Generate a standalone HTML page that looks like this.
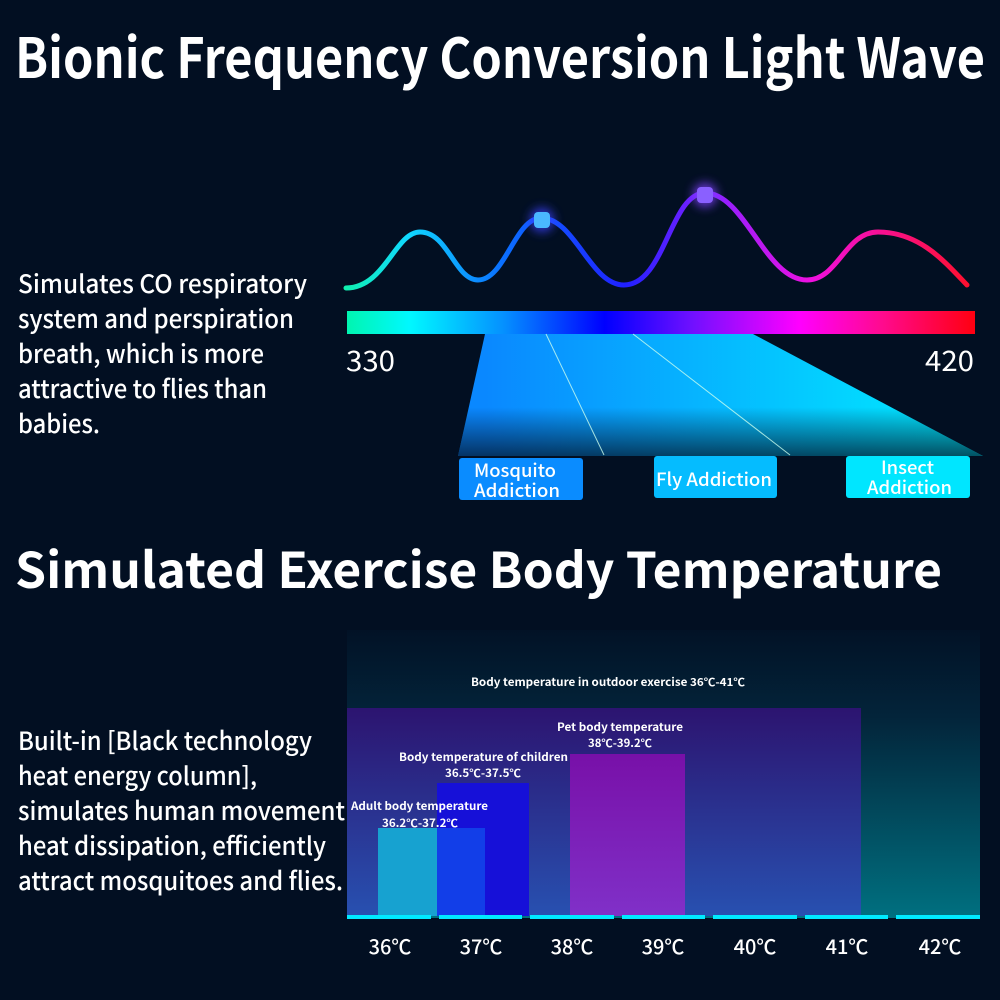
<!DOCTYPE html>
<html><head><meta charset="utf-8"><style>
html,body{margin:0;padding:0;background:#020f22;}
svg{display:block}
text{font-family:"Noto Sans CJK SC","Liberation Sans",sans-serif;fill:#fff}
</style></head><body>
<svg width="1000" height="1000" viewBox="0 0 1000 1000" xmlns="http://www.w3.org/2000/svg">
<defs>
<linearGradient id="spec" x1="0" x2="1">
<stop offset="0" stop-color="#00f5b0"/><stop offset="0.1" stop-color="#00f8ff"/><stop offset="0.25" stop-color="#0590ff"/>
<stop offset="0.41" stop-color="#0000ff"/><stop offset="0.55" stop-color="#7010ff"/><stop offset="0.72" stop-color="#ff00ff"/>
<stop offset="0.85" stop-color="#ff0a90"/><stop offset="1" stop-color="#ff0010"/></linearGradient>
<linearGradient id="wave" x1="346" x2="967" gradientUnits="userSpaceOnUse">
<stop offset="0" stop-color="#10f0b0"/><stop offset="0.1" stop-color="#10d8ff"/><stop offset="0.25" stop-color="#0a70ff"/>
<stop offset="0.45" stop-color="#2020ff"/><stop offset="0.6" stop-color="#9020ff"/><stop offset="0.75" stop-color="#f010e0"/>
<stop offset="1" stop-color="#ff1030"/></linearGradient>
<linearGradient id="trap" x1="485" y1="0" x2="983" y2="0" gradientUnits="userSpaceOnUse">
<stop offset="0" stop-color="#0a88ff"/><stop offset="1" stop-color="#00f0ff"/></linearGradient>
<linearGradient id="trapfade" x1="0" y1="334" x2="0" y2="456" gradientUnits="userSpaceOnUse">
<stop offset="0.6" stop-color="#020f22" stop-opacity="0"/><stop offset="1" stop-color="#020f22" stop-opacity="0.7"/></linearGradient>
<linearGradient id="area" x1="0" y1="630" x2="0" y2="918" gradientUnits="userSpaceOnUse">
<stop offset="0" stop-color="#021226"/><stop offset="0.3" stop-color="#03243a"/><stop offset="1" stop-color="#007080"/></linearGradient>
<linearGradient id="purp" x1="0" y1="708" x2="0" y2="915" gradientUnits="userSpaceOnUse">
<stop offset="0" stop-color="#2c1470"/><stop offset="1" stop-color="#2850b0"/></linearGradient>
<linearGradient id="pet" x1="0" y1="754" x2="0" y2="915" gradientUnits="userSpaceOnUse">
<stop offset="0" stop-color="#7810a8"/><stop offset="1" stop-color="#8030c8"/></linearGradient>
<filter id="glow" x="-2" y="-2" width="5" height="5"><feGaussianBlur stdDeviation="5"/></filter>
</defs>

<text x="15" y="78" font-size="55" font-weight="bold" textLength="970" lengthAdjust="spacingAndGlyphs">Bionic Frequency Conversion Light Wave</text>

<g font-size="25" font-weight="500">
<text x="18" y="293" textLength="289" lengthAdjust="spacingAndGlyphs">Simulates CO  respiratory</text>
<text x="18" y="328" textLength="276" lengthAdjust="spacingAndGlyphs">system and perspiration</text>
<text x="18" y="363" textLength="246" lengthAdjust="spacingAndGlyphs">breath, which is more</text>
<text x="18" y="398" textLength="249" lengthAdjust="spacingAndGlyphs">attractive to flies than</text>
<text x="18" y="433" textLength="82" lengthAdjust="spacingAndGlyphs">babies.</text>
</g>

<path d="M346,288 C385,288 395,232 420,232 C448,232 455,280 478,280 C505,280 515,218 541,218 C575,218 590,285 624,285 C665,285 670,193 705,193 C745,193 765,280 807,280 C838,280 845,232 878,232 C920,232 945,262 967,285" fill="none" stroke="url(#wave)" stroke-width="5" stroke-linecap="round"/>
<circle cx="542" cy="220" r="12" fill="#3a40ff" opacity="0.8" filter="url(#glow)"/>
<rect x="534" y="212" width="16" height="16" rx="4" fill="#4ab8ff"/>
<circle cx="705" cy="195" r="12" fill="#8040ff" opacity="0.8" filter="url(#glow)"/>
<rect x="697" y="187" width="16" height="16" rx="4" fill="#8a60ff"/>

<rect x="347" y="311" width="628" height="23" fill="url(#spec)"/>
<text x="346" y="371" font-size="28" textLength="49" lengthAdjust="spacingAndGlyphs">330</text>
<text x="925" y="371" font-size="28" textLength="49" lengthAdjust="spacingAndGlyphs">420</text>

<polygon points="485,334 753,334 983,456 458,456" fill="url(#trap)"/>
<polygon points="485,334 753,334 983,456 458,456" fill="url(#trapfade)"/>
<line x1="546" y1="334" x2="604" y2="455" stroke="#cfe" stroke-width="1" opacity="0.8"/>
<line x1="633" y1="334" x2="790" y2="455" stroke="#cfe" stroke-width="1" opacity="0.8"/>

<g font-size="18" font-weight="500">
<rect x="459" y="458" width="124" height="42" rx="3" fill="#0a8cff"/>
<text x="474" y="477" textLength="82" lengthAdjust="spacingAndGlyphs">Mosquito</text>
<text x="474" y="497" textLength="86" lengthAdjust="spacingAndGlyphs">Addiction</text>
<rect x="654" y="456" width="123" height="42" rx="3" fill="#05bcff"/>
<text x="656" y="486" textLength="116" lengthAdjust="spacingAndGlyphs">Fly Addiction</text>
<rect x="846" y="456" width="124" height="42" rx="3" fill="#00e6ff"/>
<text x="881" y="474" textLength="53" lengthAdjust="spacingAndGlyphs">Insect</text>
<text x="867" y="494" textLength="85" lengthAdjust="spacingAndGlyphs">Addiction</text>
</g>

<text x="15" y="588" font-size="49" font-weight="bold" textLength="927" lengthAdjust="spacingAndGlyphs">Simulated Exercise Body Temperature</text>

<g font-size="25" font-weight="500">
<text x="18" y="750" textLength="294" lengthAdjust="spacingAndGlyphs">Built-in [Black technology</text>
<text x="18" y="785" textLength="239" lengthAdjust="spacingAndGlyphs">heat energy column],</text>
<text x="18" y="820" textLength="327" lengthAdjust="spacingAndGlyphs">simulates human movement</text>
<text x="18" y="855" textLength="308" lengthAdjust="spacingAndGlyphs">heat dissipation, efficiently</text>
<text x="18" y="890" textLength="325" lengthAdjust="spacingAndGlyphs">attract mosquitoes and flies.</text>
</g>

<rect x="347" y="630" width="633" height="288" fill="url(#area)"/>
<text x="471" y="686" font-size="11" font-weight="bold" textLength="274" lengthAdjust="spacingAndGlyphs">Body temperature in outdoor exercise 36℃-41℃</text>
<rect x="347" y="708" width="514" height="208" fill="url(#purp)"/>
<rect x="437" y="783" width="92" height="133" fill="#1610d8"/>
<rect x="378" y="828" width="59" height="88" fill="#17a2d0"/>
<rect x="437" y="828" width="48" height="88" fill="#123ee8"/>
<rect x="570" y="754" width="115" height="162" fill="url(#pet)"/>
<g font-size="11" font-weight="bold">
<text x="351" y="810" textLength="137" lengthAdjust="spacingAndGlyphs">Adult body temperature</text>
<text x="382" y="827" textLength="76" lengthAdjust="spacingAndGlyphs">36.2℃-37.2℃</text>
<text x="399" y="761" textLength="169" lengthAdjust="spacingAndGlyphs">Body temperature of children</text>
<text x="445" y="777" textLength="76" lengthAdjust="spacingAndGlyphs">36.5℃-37.5℃</text>
<text x="557" y="731" textLength="126" lengthAdjust="spacingAndGlyphs">Pet body temperature</text>
<text x="588" y="747" textLength="64" lengthAdjust="spacingAndGlyphs">38℃-39.2℃</text>
</g>
<g fill="#00eaff">
<rect x="347" y="915" width="84" height="4"/><rect x="439" y="915" width="83" height="4"/>
<rect x="530" y="915" width="84" height="4"/><rect x="622" y="915" width="83" height="4"/>
<rect x="713" y="915" width="84" height="4"/><rect x="805" y="915" width="83" height="4"/>
<rect x="896" y="915" width="84" height="4"/></g>
<g font-size="20" font-weight="500" text-anchor="middle">
<text x="390" y="954">36℃</text><text x="481" y="954">37℃</text><text x="572" y="954">38℃</text>
<text x="663" y="954">39℃</text><text x="755" y="954">40℃</text><text x="847" y="954">41℃</text>
<text x="940" y="954">42℃</text></g>
</svg>
</body></html>
